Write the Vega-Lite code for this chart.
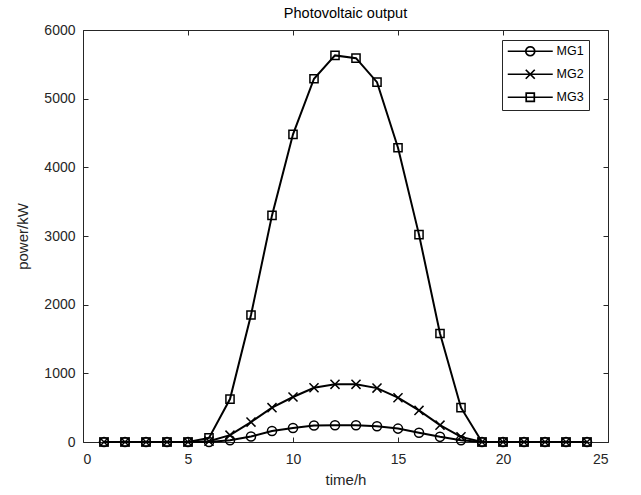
{
  "$schema": "https://vega.github.io/schema/vega-lite/v6.json",
  "width": 525,
  "height": 412,
  "autosize": {"type": "none"},
  "padding": {"left": 83, "top": 30, "right": 33, "bottom": 53},
  "background": "white",
  "title": {"text": "Photovoltaic output", "fontSize": 14.5, "fontWeight": "normal", "font": "Liberation Sans", "color": "#000000", "offset": 2},
  "data": {"values": [
    {"h":1,"s":"MG1","p":0},{"h":2,"s":"MG1","p":0},{"h":3,"s":"MG1","p":0},{"h":4,"s":"MG1","p":0},{"h":5,"s":"MG1","p":0},{"h":6,"s":"MG1","p":0},
    {"h":7,"s":"MG1","p":25},{"h":8,"s":"MG1","p":80},{"h":9,"s":"MG1","p":160},{"h":10,"s":"MG1","p":205},{"h":11,"s":"MG1","p":240},{"h":12,"s":"MG1","p":245},
    {"h":13,"s":"MG1","p":245},{"h":14,"s":"MG1","p":230},{"h":15,"s":"MG1","p":195},{"h":16,"s":"MG1","p":135},{"h":17,"s":"MG1","p":75},{"h":18,"s":"MG1","p":25},
    {"h":19,"s":"MG1","p":0},{"h":20,"s":"MG1","p":0},{"h":21,"s":"MG1","p":0},{"h":22,"s":"MG1","p":0},{"h":23,"s":"MG1","p":0},{"h":24,"s":"MG1","p":0},
    {"h":1,"s":"MG2","p":0},{"h":2,"s":"MG2","p":0},{"h":3,"s":"MG2","p":0},{"h":4,"s":"MG2","p":0},{"h":5,"s":"MG2","p":0},{"h":6,"s":"MG2","p":12},
    {"h":7,"s":"MG2","p":100},{"h":8,"s":"MG2","p":290},{"h":9,"s":"MG2","p":500},{"h":10,"s":"MG2","p":655},{"h":11,"s":"MG2","p":790},{"h":12,"s":"MG2","p":840},
    {"h":13,"s":"MG2","p":840},{"h":14,"s":"MG2","p":785},{"h":15,"s":"MG2","p":645},{"h":16,"s":"MG2","p":460},{"h":17,"s":"MG2","p":245},{"h":18,"s":"MG2","p":75},
    {"h":19,"s":"MG2","p":0},{"h":20,"s":"MG2","p":0},{"h":21,"s":"MG2","p":0},{"h":22,"s":"MG2","p":0},{"h":23,"s":"MG2","p":0},{"h":24,"s":"MG2","p":0},
    {"h":1,"s":"MG3","p":0},{"h":2,"s":"MG3","p":0},{"h":3,"s":"MG3","p":0},{"h":4,"s":"MG3","p":0},{"h":5,"s":"MG3","p":0},{"h":6,"s":"MG3","p":60},
    {"h":7,"s":"MG3","p":625},{"h":8,"s":"MG3","p":1850},{"h":9,"s":"MG3","p":3300},{"h":10,"s":"MG3","p":4480},{"h":11,"s":"MG3","p":5290},{"h":12,"s":"MG3","p":5630},
    {"h":13,"s":"MG3","p":5590},{"h":14,"s":"MG3","p":5240},{"h":15,"s":"MG3","p":4285},{"h":16,"s":"MG3","p":3020},{"h":17,"s":"MG3","p":1580},{"h":18,"s":"MG3","p":500},
    {"h":19,"s":"MG3","p":0},{"h":20,"s":"MG3","p":0},{"h":21,"s":"MG3","p":0},{"h":22,"s":"MG3","p":0},{"h":23,"s":"MG3","p":0},{"h":24,"s":"MG3","p":0}
  ]},
  "resolve": {"scale": {"shape": "independent"}},
  "layer": [
    {
      "mark": {"type": "line", "color": "#000000", "strokeWidth": 2},
      "encoding": {
        "x": {"field": "h", "type": "quantitative", "scale": {"domain": [0, 25], "nice": false},
              "axis": {"orient": "bottom", "title": "time/h", "values": [0, 5, 10, 15, 20, 25], "labelPadding": 15, "titlePadding": 6}},
        "y": {"field": "p", "type": "quantitative", "scale": {"domain": [0, 6000], "nice": false},
              "axis": {"orient": "left", "title": "power/kW", "format": "d", "values": [0, 1000, 2000, 3000, 4000, 5000, 6000], "labelPadding": 13, "titlePadding": 13}},
        "detail": {"field": "s", "type": "nominal"}
      }
    },
    {
      "mark": {"type": "point", "filled": false, "color": "#000000", "strokeWidth": 1.5, "size": 82, "opacity": 1},
      "encoding": {
        "x": {"field": "h", "type": "quantitative",
              "axis": {"orient": "top", "title": null, "labels": false, "values": [0, 5, 10, 15, 20, 25]}},
        "y": {"field": "p", "type": "quantitative",
              "axis": {"orient": "right", "title": null, "labels": false, "values": [0, 1000, 2000, 3000, 4000, 5000, 6000]}},
        "shape": {"field": "s", "type": "nominal",
                  "scale": {"domain": ["MG1", "MG2", "MG3"], "range": ["circle", "M-1,-1L1,1M-1,1L1,-1", "M-0.9,-0.9L0.9,-0.9L0.9,0.9L-0.9,0.9Z"]},
                  "legend": null}
      }
    },
    {
      "mark": {"type": "point", "filled": false, "color": "#000000", "strokeWidth": 1.7, "opacity": 0},
      "encoding": {
        "x": {"field": "h", "type": "quantitative", "axis": null},
        "y": {"field": "p", "type": "quantitative", "axis": null},
        "shape": {"field": "s", "type": "nominal",
                  "scale": {"domain": ["MG1", "MG2", "MG3"], "range": [
                    "M-5,0L5,0M1,0L0.924,0.383L0.707,0.707L0.383,0.924L0,1L-0.383,0.924L-0.707,0.707L-0.924,0.383L-1,0L-0.924,-0.383L-0.707,-0.707L-0.383,-0.924L0,-1L0.383,-0.924L0.707,-0.707L0.924,-0.383Z",
                    "M-5,0L5,0M-1,-1L1,1M-1,1L1,-1",
                    "M-5,0L5,0M-0.9,-0.9L0.9,-0.9L0.9,0.9L-0.9,0.9Z"]},
                  "legend": {"title": null, "orient": "none", "legendX": 419, "legendY": 10}}
      }
    }
  ],
  "config": {
    "view": {"stroke": "#262626", "strokeWidth": 1},
    "axis": {
      "grid": false,
      "domain": false,
      "ticks": true,
      "tickSize": -5,
      "tickColor": "#262626",
      "labelFont": "Liberation Sans",
      "labelFontSize": 14,
      "labelColor": "#262626",
      "titleFont": "Liberation Sans",
      "titleFontSize": 15,
      "titleFontWeight": "normal",
      "titleColor": "#262626"
    },
    "legend": {
      "strokeColor": "#262626",
      "fillColor": "white",
      "padding": 5,
      "labelFont": "Liberation Sans",
      "labelFontSize": 12.5,
      "labelColor": "#000000",
      "symbolSize": 81,
      "symbolOpacity": 1,
      "symbolStrokeWidth": 1.7,
      "symbolStrokeColor": "#000000",
      "symbolFillColor": "transparent",
      "symbolOffset": 17,
      "labelOffset": 20,
      "rowPadding": 6
    }
  }
}
